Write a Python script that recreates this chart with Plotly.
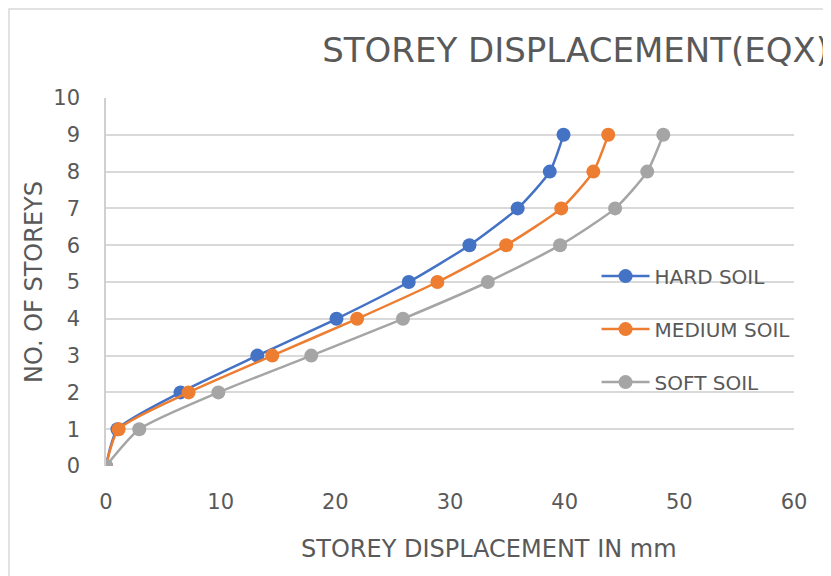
import plotly.graph_objects as go

storeys = [0, 1, 2, 3, 4, 5, 6, 7, 8, 9]
hard_soil = [0, 1.0, 6.5, 13.2, 20.1, 26.4, 31.7, 35.9, 38.7, 39.9]
medium_soil = [0, 1.1, 7.2, 14.5, 21.9, 28.9, 34.9, 39.7, 42.5, 43.8]
soft_soil = [0, 2.9, 9.8, 17.9, 25.9, 33.3, 39.6, 44.4, 47.2, 48.6]

series_names = ["HARD SOIL", "MEDIUM SOIL", "SOFT SOIL"]
series_colors = ["#4472C4", "#ED7D31", "#A5A5A5"]
x_ticks = [0, 10, 20, 30, 40, 50, 60]
y_ticks = [0, 1, 2, 3, 4, 5, 6, 7, 8, 9, 10]

FONT = "DejaVu Sans, sans-serif"
TXT = "#595959"

# page body has an 8px margin, so the figure starts at (8, 8) in the window
W, H = 823, 568

fig = go.Figure()
for i, (name, vals, col) in enumerate(zip(series_names, [hard_soil, medium_soil, soft_soil], series_colors)):
    fig.add_trace(go.Scatter(
        x=vals, y=storeys, name=name, mode="lines+markers",
        line=dict(color=col, width=2.5, shape="spline", smoothing=0.6),
        marker=dict(color=col, size=14),
        legendgroup=f"g{i}",
    ))

fig.update_layout(
    width=W, height=H,
    margin=dict(l=98, r=37, t=90, b=110),
    paper_bgcolor="white", plot_bgcolor="white",
    font=dict(family=FONT, color=TXT),
    title=dict(text="STOREY DISPLACEMENT(EQX)", xref="container", x=821 / W, xanchor="right",
               yref="container", y=1 - 42 / H, yanchor="middle",
               font=dict(size=34, color=TXT, family=FONT)),
    xaxis=dict(range=[0, 60], tickvals=x_ticks, showgrid=False, zeroline=False,
               showline=False, tickfont=dict(size=21, color=TXT),
               ticks="", ticklabelstandoff=21),
    yaxis=dict(range=[0, 10], tickvals=y_ticks, showgrid=True, gridcolor="#D9D9D9", gridwidth=1.5,
               zeroline=False, showline=True, linecolor="#D0D0D0", linewidth=1.5,
               tickfont=dict(size=21, color=TXT), ticks="", ticklabelstandoff=20,
               title=dict(text="NO. OF STOREYS", font=dict(size=24, color=TXT), standoff=4)),
    legend=dict(x=0.713, y=0.372, xanchor="left", yanchor="middle", bgcolor="rgba(0,0,0,0)",
                font=dict(size=20, color=TXT), tracegroupgap=24, traceorder="grouped",
                itemwidth=48),
    showlegend=True,
)

# x-axis title (offset to the right of the plot centre, as in the reference)
fig.add_annotation(text="STOREY DISPLACEMENT IN mm", xref="paper", yref="paper",
                   x=(489 - 106) / 688, y=(466 - 549) / 368, xanchor="center", yanchor="middle",
                   showarrow=False, font=dict(size=24, color=TXT, family=FONT))

fig.add_shape(type="rect", xref="paper", yref="paper",
              x0=-97 / 688, x1=(W + 10 - 98) / 688,
              y0=-(110 + 10) / 368, y1=(368 + 89) / 368,
              line=dict(color="#D9D9D9", width=1.5), fillcolor="rgba(0,0,0,0)", layer="below")

fig.write_html("out.html")
